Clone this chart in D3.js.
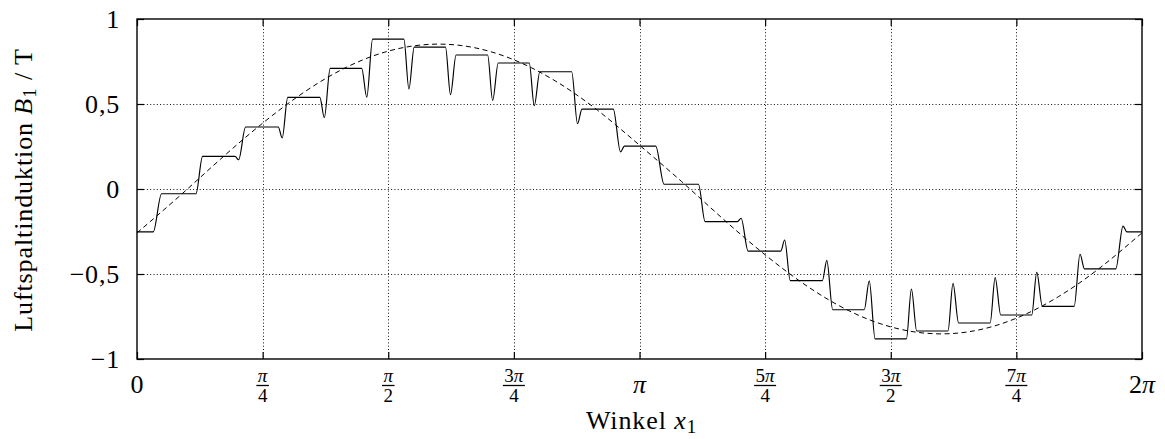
<!DOCTYPE html>
<html>
<head>
<meta charset="utf-8">
<script src="https://cdn.jsdelivr.net/npm/d3@7"></script>
<style>
    body { margin: 0; background: #fff; }
    svg text { font-family: "Liberation Serif", "DejaVu Serif", serif; fill: #000; }
</style>
</head>
<body>
<svg id="chart" width="1165" height="439"></svg>
<script>
// Winkel in Grad (0..360 -> 0..2π), Induktion in T
const waveAngle = [
    0, 5.8, 8.8, 21.1, 23.5, 35.1, 36.4, 38.9, 50.6, 52.0, 54.0, 65.5, 67.1, 69.2,
    80.5, 82.3, 84.4, 95.6, 97.4, 99.3, 110.5, 112.3, 114.3, 125.6, 127.4, 129.4,
    140.5, 142.3, 144.3, 155.7, 157.8, 159.4, 170.6, 173.2, 174.6,
    185.8, 188.8, 201.1, 203.5, 215.1, 216.4, 218.9, 230.6, 232.0, 234.0, 245.5, 247.1, 249.2,
    260.5, 262.3, 264.4, 275.6, 277.4, 279.3, 290.5, 292.3, 294.3, 305.6, 307.4, 309.4,
    320.5, 322.3, 324.3, 335.7, 337.8, 339.4, 350.6, 353.2, 354.6, 360
];
const waveValue = [
    -0.252, -0.252, -0.028, -0.028, 0.192, 0.192, 0.172, 0.365, 0.365, 0.300, 0.539, 0.539, 0.420, 0.710,
    0.710, 0.540, 0.882, 0.882, 0.588, 0.835, 0.835, 0.555, 0.788, 0.788, 0.521, 0.741,
    0.741, 0.490, 0.690, 0.690, 0.384, 0.470, 0.470, 0.218, 0.252,
    0.252, 0.028, 0.028, -0.192, -0.192, -0.172, -0.365, -0.365, -0.300, -0.539, -0.539, -0.420, -0.710,
    -0.710, -0.540, -0.882, -0.882, -0.588, -0.835, -0.835, -0.555, -0.788, -0.788, -0.521, -0.741,
    -0.741, -0.490, -0.690, -0.690, -0.384, -0.470, -0.470, -0.218, -0.252, -0.252
];

// Grundwelle (gestrichelt)
const fundAngle = [0, 15, 30, 45, 60, 75, 90, 105, 120, 135, 150, 165, 180,
    195, 210, 225, 240, 255, 270, 285, 300, 315, 330, 345, 360];
const fundValue = [-0.258, -0.045, 0.177, 0.387, 0.571, 0.716, 0.811, 0.851, 0.834, 0.760, 0.634, 0.463, 0.258,
    0.045, -0.177, -0.387, -0.571, -0.716, -0.811, -0.851, -0.834, -0.760, -0.634, -0.463, -0.258];

const yTicks = [-1, -0.5, 0, 0.5, 1];
const yTickLabels = ["−1", "−0,5", "0", "0,5", "1"];
const xTicks = [0, 45, 90, 135, 180, 225, 270, 315, 360];
const xTickNum = ["0", "π", "π", "3π", "π", "5π", "3π", "7π", "2π"];
const xTickDen = ["", "4", "2", "4", "", "4", "2", "4", ""];

// writes "3π" with the π in italic like TeX math
function mathText(sel, s) {
    s.split("").forEach(ch => {
        const t = sel.append("tspan").text(ch);
        if (ch === "π") t.attr("font-style", "italic");
    });
}

function init() {
    const svg = d3.select("#chart");
    const left = 137, right = 1142, top = 19, bottom = 359;
    const x = d3.scaleLinear().domain([0, 360]).range([left, right]);
    const y = d3.scaleLinear().domain([-1, 1]).range([bottom, top]);

    // gridlines
    const grid = svg.append("g").attr("stroke", "#111").attr("stroke-width", 1).attr("stroke-dasharray", "1,2.3");
    xTicks.slice(1, -1).forEach(t => {
        grid.append("line")
            .attr("x1", Math.round(x(t)) + 0.5).attr("x2", Math.round(x(t)) + 0.5)
            .attr("y1", top).attr("y2", bottom);
    });
    yTicks.slice(1, -1).forEach(t => {
        grid.append("line")
            .attr("y1", Math.round(y(t)) + 0.5).attr("y2", Math.round(y(t)) + 0.5)
            .attr("x1", left).attr("x2", right);
    });

    // inward ticks on all four sides
    const tickLen = 7;
    const axes = [
        [d3.axisBottom(x).tickValues(xTicks), `translate(0,${bottom})`],
        [d3.axisTop(x).tickValues(xTicks), `translate(0,${top})`],
        [d3.axisLeft(y).tickValues(yTicks), `translate(${left},0)`],
        [d3.axisRight(y).tickValues(yTicks), `translate(${right},0)`]
    ];
    axes.forEach(([axis, tr]) => {
        const g = svg.append("g").attr("transform", tr)
            .call(axis.tickSize(-tickLen).tickFormat(""));
        g.select(".domain").remove();
        g.selectAll("line").attr("stroke", "#000").attr("stroke-width", 1.2);
    });

    svg.append("clipPath").attr("id", "plot-clip")
        .append("rect").attr("x", left).attr("y", top).attr("width", right - left).attr("height", bottom - top);

    const plot = svg.append("g").attr("clip-path", "url(#plot-clip)");

    const fundLine = d3.line()
        .x((d, i) => x(fundAngle[i]))
        .y(d => y(d))
        .curve(d3.curveNatural);
    plot.append("path")
        .datum(fundValue)
        .attr("d", fundLine)
        .attr("fill", "none")
        .attr("stroke", "#000")
        .attr("stroke-width", 1)
        .attr("stroke-dasharray", "5,3.5");

    const waveLine = d3.line()
        .x((d, i) => x(waveAngle[i]))
        .y(d => y(d))
        .curve(d3.curveMonotoneX);
    plot.append("path")
        .datum(waveValue)
        .attr("d", waveLine)
        .attr("fill", "none")
        .attr("stroke", "#000")
        .attr("stroke-width", 1.15);

    // frame
    svg.append("rect")
        .attr("x", left).attr("y", top)
        .attr("width", right - left).attr("height", bottom - top)
        .attr("fill", "none").attr("stroke", "#000").attr("stroke-width", 1.4);

    // y tick labels
    yTicks.forEach((t, i) => {
        svg.append("text")
            .attr("x", 120).attr("y", y(t) + 8.5)
            .attr("text-anchor", "end")
            .attr("font-size", 26)
            .attr("letter-spacing", 0.8)
            .text(yTickLabels[i]);
    });

    // x tick labels, fractions stacked
    xTicks.forEach((t, i) => {
        const cx = x(t);
        if (xTickDen[i] === "") {
            const lab = svg.append("text")
                .attr("x", cx).attr("y", 393)
                .attr("text-anchor", "middle")
                .attr("font-size", 26);
            mathText(lab, xTickNum[i]);
        } else {
            const num = svg.append("text")
                .attr("x", cx).attr("y", 382)
                .attr("text-anchor", "middle")
                .attr("font-size", 19);
            mathText(num, xTickNum[i]);
            const w = num.node().getComputedTextLength();
            svg.append("line")
                .attr("x1", cx - w / 2 - 1.5).attr("x2", cx + w / 2 + 1.5)
                .attr("y1", 385.5).attr("y2", 385.5)
                .attr("stroke", "#000").attr("stroke-width", 1.3);
            svg.append("text")
                .attr("x", cx).attr("y", 402)
                .attr("text-anchor", "middle")
                .attr("font-size", 19)
                .text(xTickDen[i]);
        }
    });

    // axis titles
    const xTitle = svg.append("text")
        .attr("x", (left + right) / 2 + 2).attr("y", 429)
        .attr("text-anchor", "middle")
        .attr("font-size", 26)
        .attr("letter-spacing", 0.9);
    xTitle.append("tspan").text("Winkel ");
    xTitle.append("tspan").attr("font-style", "italic").text("x");
    xTitle.append("tspan").attr("font-size", 19).attr("dy", 4).text("1");

    const yTitle = svg.append("text")
        .attr("transform", `translate(32,${(top + bottom) / 2 + 1}) rotate(-90)`)
        .attr("text-anchor", "middle")
        .attr("font-size", 26)
        .attr("letter-spacing", 0.9);
    yTitle.append("tspan").text("Luftspaltinduktion ");
    yTitle.append("tspan").attr("font-style", "italic").text("B");
    yTitle.append("tspan").attr("font-size", 19).attr("dy", 4).text("1");
    yTitle.append("tspan").attr("dy", -4).text(" / T");
}

init();
</script>
</body>
</html>
